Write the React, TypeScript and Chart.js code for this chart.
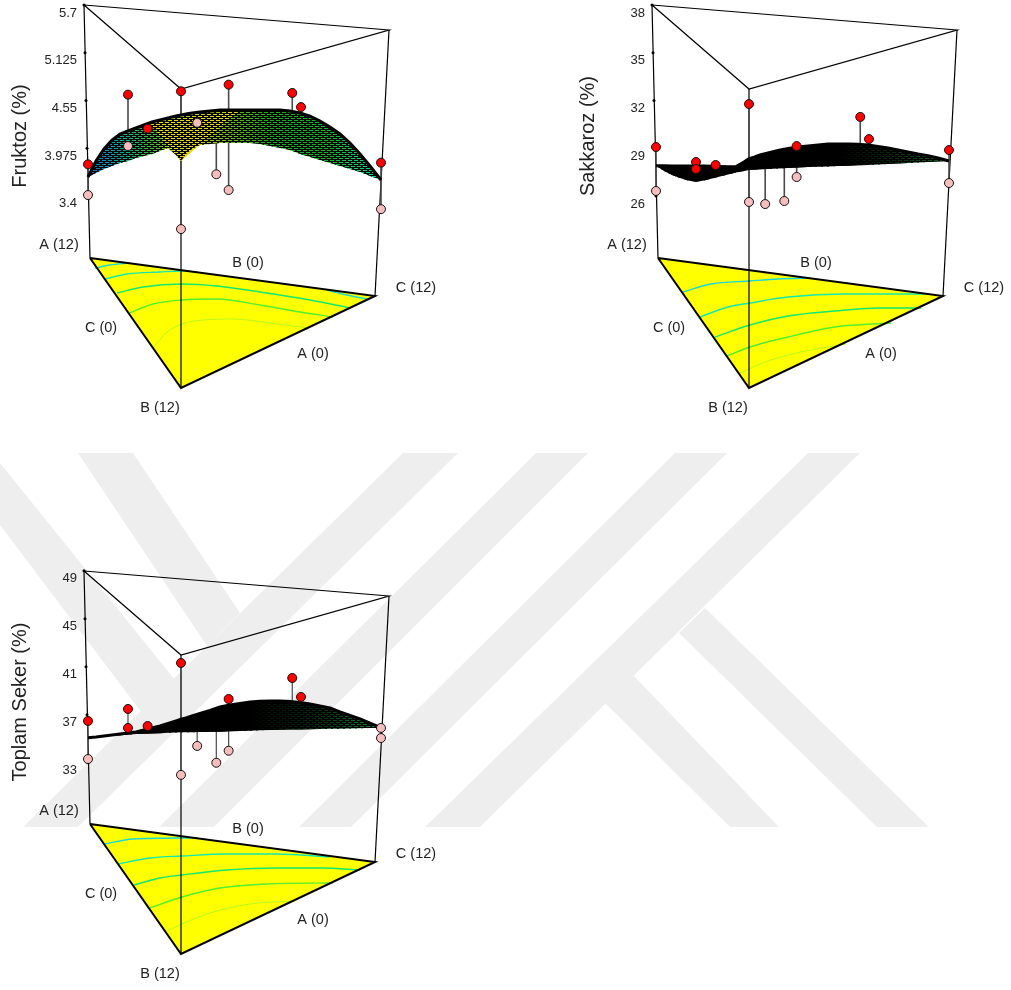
import React, { useEffect, useRef } from "react";
import { Chart, registerables } from "chart.js";

Chart.register(...registerables);

// ---- view geometry of the prism (shared view units) ----
const VIEW_W = 443;
const VIEW_H = 424;
const frameTopX = [84, 181, 389];
const frameTopV = [5, 89, 30];
const frameFloorX = [90, 181, 375];
const frameFloorV = [258, 388, 296];
const vertexX = [88, 181, 381];
const tickDotX = [84, 85, 86, 87, 88];
const vertexLabels = ["A (12)", "B (0)", "C (12)", "C (0)", "A (0)", "B (12)"];
const vertexLabelX = [59, 248, 416, 101, 313, 160];
const vertexLabelV = [245, 263, 288, 328, 354, 408];

// ---- mixture design: 15 runs (shares of A, B, C) ----
const runMix = [
  [1, 0, 0], [1, 0, 0], [0, 1, 0], [0, 1, 0], [0, 0, 1], [0, 0, 1],
  [0.57, 0.43, 0], [0.57, 0.43, 0], [0.66, 0.2, 0.14], [0.17, 0.67, 0.16],
  [0.33, 0.34, 0.33], [0.52, 0, 0.48], [0.52, 0, 0.48], [0.18, 0.18, 0.64], [0, 0.4, 0.6],
];

// ---- response values ----
const fruktozRuns = [3.78, 3.41, 4.66, 3.0, 3.8, 3.24, 4.62, 4.0, 4.21, 4.28, 3.66, 4.74, 3.47, 4.64, 4.47];
const fruktozFit = [3.627, 3.627, 3.82, 3.82, 3.591, 3.591, 4.05, 4.05, 4.07, 4.3, 4.19, 4.2, 4.2, 4.25, 4.25];
const sakkarozRuns = [29.08, 26.32, 31.78, 25.63, 28.89, 26.82, 28.14, 27.7, 27.95, 25.5, 25.69, 29.14, 27.2, 30.97, 29.58];
const sakkarozFit = [27.9, 27.9, 27.95, 27.95, 28.2, 28.2, 27.5, 27.5, 27.5, 28.27, 28.4, 28.58, 28.58, 28.58, 28.58];
const toplamRuns = [36.48, 33.31, 41.31, 31.99, 35.9, 35.06, 37.48, 35.9, 36.06, 34.4, 33.0, 38.31, 34.0, 40.06, 38.48];
const toplamFit = [35.09, 35.09, 36.06, 36.06, 35.92, 35.92, 35.4, 35.4, 35.42, 36.0, 36.3, 36.9, 36.9, 36.9, 36.9];

// ---- surface silhouettes: far and near edge at each view position ----
const meshX = [88, 96, 104, 112, 120, 128, 136, 144, 152, 160, 168, 176, 181, 186, 192, 200, 210, 220, 230, 240, 250, 260, 270, 280, 290, 300, 310, 320, 330, 340, 350, 360, 370, 381];
const fruktozFar = [3.627, 3.82, 3.965, 4.073, 4.145, 4.182, 4.218, 4.254, 4.29, 4.314, 4.338, 4.362, 4.374, 4.387, 4.399, 4.411, 4.423, 4.435, 4.435, 4.435, 4.435, 4.435, 4.435, 4.435, 4.423, 4.399, 4.362, 4.302, 4.23, 4.145, 4.037, 3.905, 3.76, 3.591];
const fruktozNear = [3.627, 3.676, 3.724, 3.76, 3.796, 3.82, 3.856, 3.88, 3.905, 3.941, 3.977, 3.893, 3.82, 3.905, 3.965, 4.013, 4.025, 4.037, 4.037, 4.037, 4.037, 4.025, 4.001, 3.977, 3.953, 3.905, 3.868, 3.832, 3.796, 3.76, 3.724, 3.688, 3.639, 3.591];
const sakkarozFar = [27.9, 27.9, 27.89, 27.89, 27.89, 27.89, 27.89, 27.87, 27.86, 27.85, 27.85, 28.14, 28.36, 28.45, 28.58, 28.71, 28.86, 28.99, 29.08, 29.15, 29.21, 29.27, 29.27, 29.27, 29.26, 29.21, 29.11, 29.02, 28.89, 28.77, 28.64, 28.54, 28.39, 28.2];
const sakkarozNear = [27.9, 27.58, 27.32, 27.14, 26.98, 26.9, 26.98, 27.1, 27.23, 27.35, 27.48, 27.58, 27.64, 27.66, 27.68, 27.7, 27.73, 27.76, 27.79, 27.83, 27.85, 27.86, 27.89, 27.91, 27.93, 27.95, 27.98, 28.01, 28.05, 28.08, 28.11, 28.14, 28.17, 28.2];
const toplamFar = [35.09, 35.15, 35.23, 35.31, 35.4, 35.48, 35.56, 35.73, 35.9, 36.06, 36.27, 36.48, 36.62, 36.73, 36.9, 37.1, 37.35, 37.65, 37.81, 37.94, 38.06, 38.12, 38.15, 38.15, 38.1, 38.02, 37.89, 37.73, 37.56, 37.23, 36.94, 36.65, 36.31, 35.92];
const toplamNear = [35.09, 35.15, 35.2, 35.25, 35.3, 35.34, 35.39, 35.42, 35.44, 35.46, 35.49, 35.51, 35.54, 35.54, 35.55, 35.56, 35.58, 35.59, 35.62, 35.65, 35.67, 35.7, 35.73, 35.74, 35.76, 35.78, 35.79, 35.81, 35.83, 35.84, 35.86, 35.88, 35.9, 35.92];

// ---- surface colouring ----
const fruktozShadeX = [88, 105, 125, 150, 170, 200, 235, 270, 330, 365, 381];
const fruktozShade = ["#0070c8", "#0090c0", "#00b090", "#30c030", "#90d000", "#c8d000", "#60c000", "#10b010", "#00c020", "#00d880", "#00e8c0"];
const sakkarozShadeX = [88, 270, 330, 381];
const sakkarozShade = ["#000000", "#000000", "#04300f", "#0a6a20"];
const toplamShadeX = [88, 250, 320, 381];
const toplamShade = ["#000000", "#000000", "#04300f", "#109040"];
const fruktozHotX = [181, 165, 150, 240, 205];
const fruktozHotZ = [3.82, 4.05, 4.28, 4.435, 4.07];

// ---- floor contours ----
const contourColors = ["#18d8d8", "#14e8b0", "#10e870", "#50ef30", "#b8f820", "#18d8d8"];
const fruktozContours = [
  [[95, 268], [110, 265], [130, 263]],
  [[105, 279], [127, 274], [160, 272], [182, 271], [197, 272]],
  [[117, 293], [143, 287], [182, 284], [217, 286], [260, 292], [310, 300], [350, 308]],
  [[129, 313], [153, 304], [182, 300], [217, 299], [260, 305], [300, 312], [333, 317]],
  [[153, 348], [167, 332], [182, 324], [203, 320], [233, 319], [270, 323], [308, 328]],
  [[327, 290], [347, 295], [367, 299]],
];
const sakkarozContours = [
  [[115, 292], [143, 284], [182, 281], [210, 279], [243, 278]],
  [[132, 317], [160, 307], [182, 303], [220, 297], [277, 294], [327, 294], [362, 294]],
  [[147, 337], [182, 325], [220, 316], [267, 311], [313, 308], [353, 308]],
  [[159, 356], [182, 347], [220, 337], [267, 327], [323, 323]],
  [[172, 373], [200, 361], [233, 352], [278, 344]],
];
const toplamContours = [
  [[104, 278], [133, 273], [182, 272], [198, 272]],
  [[118, 298], [150, 292], [182, 290], [227, 288], [277, 288], [330, 291]],
  [[134, 319], [160, 312], [182, 309], [227, 304], [277, 302], [323, 302], [360, 304]],
  [[150, 342], [182, 331], [220, 322], [267, 318], [333, 317]],
  [[167, 365], [182, 358], [210, 347], [250, 338], [295, 335]],
];

// ---- background mark ----
const markColor = "#eeeeee";
const markShapes = [
  [[403, 453], [458, 453], [78, 827], [23, 827]],
  [[536, 453], [588, 453], [214, 827], [159, 827]],
  [[675, 453], [727, 453], [351, 827], [299, 827]],
  [[808, 453], [860, 453], [480, 827], [425, 827]],
  [[78, 453], [133, 453], [240, 613], [207, 646]],
  [[0, 463], [175, 680], [142, 713], [0, 525]],
  [[705, 608], [929, 827], [877, 827], [679, 633]],
  [[633, 675], [779, 827], [730, 827], [604, 702]],
];

type Panel = {
  title: string;
  ticks: number[];
  zTop: number;
  zBottom: number;
  runs: number[];
  fit: number[];
  far: number[];
  near: number[];
  shadeX: number[];
  shade: string[];
  contours: number[][][];
  hotX?: number[];
  hotZ?: number[];
  stemWidth: number;
  left: number;
  top: number;
};

const panels: Panel[] = [
  { title: "Fruktoz (%)", ticks: [3.4, 3.975, 4.55, 5.125, 5.7], zTop: 5.76025, zBottom: 0.651, runs: fruktozRuns, fit: fruktozFit, far: fruktozFar, near: fruktozNear, shadeX: fruktozShadeX, shade: fruktozShade, contours: fruktozContours, hotX: fruktozHotX, hotZ: fruktozHotZ, stemWidth: 1.6, left: 0, top: 0 },
  { title: "Sakkaroz (%)", ticks: [26, 29, 32, 35, 38], zTop: 38.314, zBottom: 11.687, runs: sakkarozRuns, fit: sakkarozFit, far: sakkarozFar, near: sakkarozNear, shadeX: sakkarozShadeX, shade: sakkarozShade, contours: sakkarozContours, stemWidth: 1.6, left: 568, top: 0 },
  { title: "Toplam Seker (%)", ticks: [33, 37, 41, 45, 49], zTop: 49.39, zBottom: 14.07, runs: toplamRuns, fit: toplamFit, far: toplamFar, near: toplamNear, shadeX: toplamShadeX, shade: toplamShade, contours: toplamContours, stemWidth: 1.2, left: 0, top: 566 },
];

const FONT = '"Liberation Sans", Arial, sans-serif';

function latticePattern(): CanvasPattern | string {
  const c = document.createElement("canvas");
  c.width = 6;
  c.height = 4;
  const g = c.getContext("2d");
  if (!g) return "#000";
  g.fillStyle = "#000";
  g.fillRect(0, 0, 6, 4);
  g.clearRect(0, 0, 4, 1);
  g.clearRect(3, 2, 3, 1);
  g.clearRect(0, 2, 1, 1);
  return g.createPattern(c, "repeat") as CanvasPattern;
}

const mixToX = (m: number[]) => m[0] * vertexX[0] + m[1] * vertexX[1] + m[2] * vertexX[2];

function shadeGradient(canvas: HTMLCanvasElement, p: Panel) {
  // the x scale runs 80..VIEW_W over the same canvas pixels, so view units equal pixels here
  const a = p.shadeX[0];
  const b = p.shadeX[p.shadeX.length - 1];
  const g = (canvas.getContext("2d") as CanvasRenderingContext2D).createLinearGradient(a, 0, b, 0);
  p.shade.forEach((c, i) => g.addColorStop((p.shadeX[i] - a) / (b - a), c));
  return g;
}

function buildDatasets(canvas: HTMLCanvasElement, p: Panel) {
  const out: any[] = [];
  const onZ = (pts: { x: number; y: number }[], o: any) =>
    out.push({ type: "line", data: pts, pointRadius: 0, borderWidth: 1, borderColor: "#000", fill: false, clip: false, tension: 0, yAxisID: "y", ...o });
  const onV = (pts: { x: number; y: number }[], o: any) => onZ(pts, { yAxisID: "v", ...o });

  // floor
  const floor = frameFloorX.map((x, i) => ({ x, y: frameFloorV[i] }));
  onV([...floor, floor[0]], { fill: "shape", backgroundColor: "#ffff00", borderWidth: 0 });
  p.contours.forEach((c, i) =>
    onV(c.map(([x, y]) => ({ x, y })), { borderColor: contourColors[i], borderWidth: i === 4 ? 1 : 1.4, cubicInterpolationMode: "monotone" })
  );
  onV([...floor, floor[0]], { borderWidth: 2, borderColor: "#000" });

  // frame
  const top = frameTopX.map((x, i) => ({ x, y: frameTopV[i] }));
  onV([...top, top[0]], { borderWidth: 1.2 });
  top.forEach((t, i) => onV([t, floor[i]], { borderWidth: 1.2 }));

  // stems
  p.runs.forEach((z, i) => {
    const x = mixToX(runMix[i]);
    onZ([{ x, y: z }, { x, y: p.fit[i] }], { borderColor: "#4a4a4a", borderWidth: p.stemWidth });
  });

  // surface
  const outline = [
    ...meshX.map((x, i) => ({ x, y: p.far[i] })),
    ...meshX.map((x, i) => ({ x, y: p.near[i] })).reverse(),
  ];
  onZ(outline, { fill: "shape", borderWidth: 0, backgroundColor: shadeGradient(canvas, p) });
  if (p.hotX && p.hotZ) {
    const hz = p.hotZ;
    onZ(p.hotX.map((x, i) => ({ x, y: hz[i] })), { fill: "shape", borderWidth: 0, backgroundColor: "#e4dc00" });
  }
  onZ(outline, { fill: "shape", borderWidth: 0, backgroundColor: latticePattern() });
  onZ(meshX.map((x, i) => ({ x, y: p.far[i] })), { borderWidth: 3 });

  // axis dots
  out.push({
    type: "line", showLine: false, clip: false, yAxisID: "y",
    data: [...p.ticks].reverse().map((t, i) => ({ x: tickDotX[i], y: t })),
    pointRadius: 1.5, pointBackgroundColor: "#000", pointBorderWidth: 0,
  });

  // design points
  const pick = (above: boolean) =>
    p.runs.map((z, i) => ({ x: mixToX(runMix[i]), y: z, up: z >= p.fit[i] })).filter((d) => d.up === above).map(({ x, y }) => ({ x, y }));
  out.push({ type: "line", showLine: false, clip: false, yAxisID: "y", data: pick(false), pointRadius: 4.5, pointBackgroundColor: "#f7bcbc", pointBorderColor: "#111", pointBorderWidth: 1 });
  out.push({ type: "line", showLine: false, clip: false, yAxisID: "y", data: pick(true), pointRadius: 4.5, pointBackgroundColor: "#ff0000", pointBorderColor: "#111", pointBorderWidth: 1 });

  return out.map((d, i) => ({ ...d, order: out.length - i }));
}

function makePanel(canvas: HTMLCanvasElement, p: Panel) {
  const textPlugin = {
    id: "panelText",
    afterDatasetsDraw(chart: any) {
      const { ctx, scales } = chart;
      ctx.save();
      ctx.fillStyle = "#222";
      ctx.font = `14.5px ${FONT}`;
      ctx.textAlign = "center";
      ctx.textBaseline = "middle";
      vertexLabels.forEach((t, i) =>
        ctx.fillText(t, scales.x.getPixelForValue(vertexLabelX[i]), scales.v.getPixelForValue(vertexLabelV[i]))
      );
      ctx.translate(20, scales.v.getPixelForValue(136));
      ctx.rotate(-Math.PI / 2);
      ctx.font = `20px ${FONT}`;
      ctx.fillText(p.title, 0, 0);
      ctx.restore();
    },
  };
  return new Chart(canvas, {
    type: "line",
    data: { datasets: buildDatasets(canvas, p) },
    plugins: [textPlugin],
    options: {
      animation: false,
      responsive: false,
      layout: { padding: 0, autoPadding: false },
      events: [],
      plugins: { legend: { display: false }, tooltip: { enabled: false }, title: { display: false } },
      scales: {
        x: { type: "linear", display: false, min: 80, max: VIEW_W },
        v: { type: "linear", display: false, min: 0, max: VIEW_H, reverse: true },
        y: {
          type: "linear",
          position: "left",
          min: p.zBottom,
          max: p.zTop,
          border: { display: false },
          grid: { display: false, drawTicks: false },
          afterBuildTicks: (s: any) => {
            s.ticks = p.ticks.map((value) => ({ value }));
          },
          afterFit: (s: any) => {
            s.width = 80;
            s.paddingTop = 0;
            s.paddingBottom = 0;
          },
          ticks: {
            autoSkip: false,
            maxRotation: 0,
            padding: 3,
            labelOffset: 8,
            color: "#222",
            font: { family: FONT, size: 13 },
            callback: (v: any) => String(v),
          },
        },
      },
    } as any,
  });
}

function makeMark(canvas: HTMLCanvasElement) {
  return new Chart(canvas, {
    type: "line",
    data: {
      datasets: markShapes.map((s) => ({
        data: s.map(([x, y]) => ({ x, y })),
        fill: "shape",
        backgroundColor: markColor,
        borderWidth: 0,
        pointRadius: 0,
      })),
    },
    options: {
      animation: false,
      responsive: false,
      layout: { padding: 0, autoPadding: false },
      events: [],
      plugins: { legend: { display: false }, tooltip: { enabled: false } },
      scales: {
        x: { type: "linear", display: false, min: 0, max: 1011 },
        y: { type: "linear", display: false, min: 0, max: 990, reverse: true },
      },
    } as any,
  });
}

export default function App() {
  const markRef = useRef<HTMLCanvasElement>(null);
  const refs = [useRef<HTMLCanvasElement>(null), useRef<HTMLCanvasElement>(null), useRef<HTMLCanvasElement>(null)];
  useEffect(() => {
    const charts: Chart[] = [];
    if (markRef.current) charts.push(makeMark(markRef.current));
    panels.forEach((p, i) => {
      const c = refs[i].current;
      if (c) charts.push(makePanel(c, p));
    });
    return () => charts.forEach((c) => c.destroy());
  }, []);
  return (
    <div style={{ position: "absolute", left: 0, top: 0, width: 1011, height: 990, overflow: "hidden", background: "#fff" }}>
      <canvas ref={markRef} width={1011} height={990} style={{ position: "absolute", left: 0, top: 0, width: 1011, height: 990 }} />
      {panels.map((p, i) => (
        <canvas key={p.title} ref={refs[i]} width={VIEW_W} height={VIEW_H} style={{ position: "absolute", left: p.left, top: p.top, width: VIEW_W, height: VIEW_H }} />
      ))}
    </div>
  );
}
